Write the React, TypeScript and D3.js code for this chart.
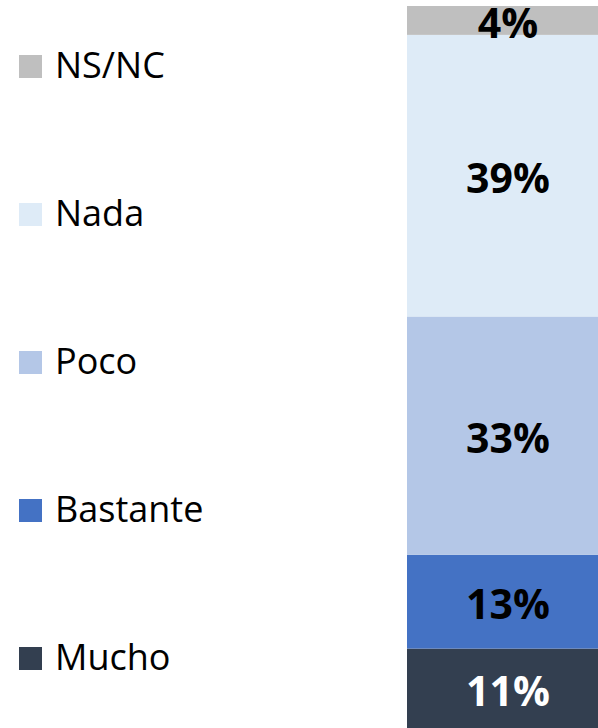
import * as d3 from "d3";
import React, { useRef, useEffect } from "react";

const width = 598;
const height = 728;

// stack order, bottom to top
const categories = ["Mucho", "Bastante", "Poco", "Nada", "NS/NC"];
const values = [11, 13, 33, 39, 4];
const labels = ["11%", "13%", "33%", "39%", "4%"];
const colors = ["#333F50", "#4472C4", "#B4C7E7", "#DEEBF7", "#BFBFBF"];
const labelColors = ["#FFFFFF", "#000000", "#000000", "#000000", "#000000"];

const App = () => {
  const svgRef = useRef<SVGSVGElement>(null);

  useEffect(() => {
    const svg = d3.select(svgRef.current);
    svg.selectAll("*").remove();

    const yScale = d3.scaleLinear().domain([0, 100]).range([728, 6]);
    const xScale = d3.scaleBand().domain(["Total"]).range([407, 609]).padding(0);

    const rows = categories.map((c, i) => ({
      name: c,
      value: values[i],
      label: labels[i],
      color: colors[i],
      labelColor: labelColors[i],
    }));
    const stacked = d3.stack().keys(categories)([
      Object.fromEntries(categories.map((c, i) => [c, values[i]])),
    ] as any);

    const bars = svg.append("g").attr("class", "bars");
    bars
      .selectAll("rect")
      .data(stacked)
      .join("rect")
      .attr("x", xScale("Total")!)
      .attr("width", xScale.bandwidth())
      .attr("y", (d) => yScale(d[0][1]))
      .attr("height", (d) => yScale(d[0][0]) - yScale(d[0][1]))
      .attr("fill", (_, i) => rows[i].color);

    bars
      .selectAll("text")
      .data(stacked)
      .join("text")
      .attr("x", xScale("Total")! + xScale.bandwidth() / 2)
      .attr("y", (d) => (yScale(d[0][0]) + yScale(d[0][1])) / 2)
      .attr("dy", "0.42em")
      .attr("text-anchor", "middle")
      .style("font-family", "'Open Sans', sans-serif")
      .style("font-weight", "bold")
      .style("font-size", "41px")
      .attr("fill", (_, i) => rows[i].labelColor)
      .text((_, i) => rows[i].label);

    // legend, top to bottom in reverse stack order
    const legendItems = rows.slice().reverse();
    const legendY = d3
      .scalePoint()
      .domain(legendItems.map((d) => d.name))
      .range([78, 670]);

    const legend = svg
      .append("g")
      .attr("class", "legend")
      .selectAll("g")
      .data(legendItems)
      .join("g")
      .attr("transform", (d) => `translate(0, ${legendY(d.name)})`);

    legend
      .append("rect")
      .attr("x", 19)
      .attr("y", -23)
      .attr("width", 23)
      .attr("height", 23)
      .attr("fill", (d) => d.color);

    legend
      .append("text")
      .attr("x", 55)
      .attr("y", 0)
      .style("font-family", "'Open Sans', sans-serif")
      .style("font-size", "36px")
      .attr("fill", "#000")
      .text((d) => d.name);
  }, []);

  return (
    <svg
      ref={svgRef}
      width={width}
      height={height}
      style={{ position: "absolute", left: 0, top: 0, background: "#fff" }}
    ></svg>
  );
};

export default App;
